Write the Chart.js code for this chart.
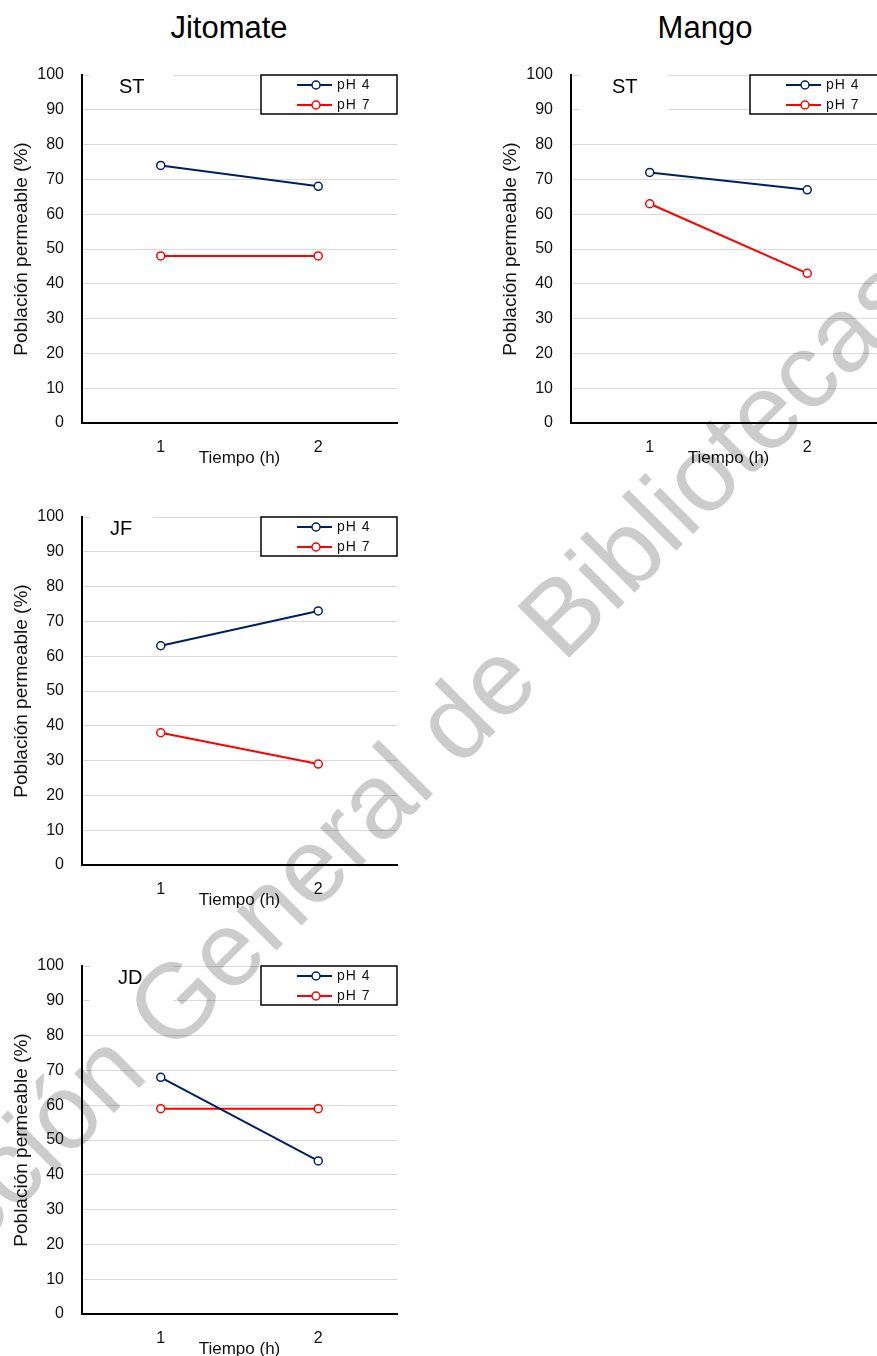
<!DOCTYPE html>
<html>
<head>
<meta charset="utf-8">
<script src="https://cdn.jsdelivr.net/npm/chart.js@4.4.1/dist/chart.umd.min.js"></script>
<style>
  html, body { margin: 0; padding: 0; background: #fff; }
  #page { position: relative; width: 877px; height: 1356px; overflow: hidden; font-family: 'Liberation Sans', Arial, sans-serif; }
  .panel { position: absolute; }
  .fruit { position: absolute; top: 12px; font-size: 31px; line-height: 31px; color: #000; transform: translateX(-50%); white-space: nowrap; }
  #watermark { position: absolute; left: 0; top: 0; mix-blend-mode: multiply; pointer-events: none; }
</style>
</head>
<body>
<div id="page">
  <div class="fruit" style="left:229px">Jitomate</div>
  <div class="fruit" style="left:705px">Mango</div>
  <canvas id="chartST" class="panel" width="410" height="420" style="left:0;top:60px"></canvas>
  <canvas id="chartMango" class="panel" width="410" height="420" style="left:489px;top:60px"></canvas>
  <canvas id="chartJF" class="panel" width="410" height="420" style="left:0;top:502px"></canvas>
  <canvas id="chartJD" class="panel" width="410" height="420" style="left:0;top:951px"></canvas>
  <canvas id="watermark" width="877" height="1356"></canvas>
</div>
<script>
// data
const timeLabels = ['1', '2'];
const seriesNames = ['pH 4', 'pH 7'];
const jitomateST_pH4 = [74, 68];
const jitomateST_pH7 = [48, 48];
const mangoST_pH4 = [72, 67];
const mangoST_pH7 = [63, 43];
const jitomateJF_pH4 = [63, 73];
const jitomateJF_pH7 = [38, 29];
const jitomateJD_pH4 = [68, 44];
const jitomateJD_pH7 = [59, 59];

const FONT = "'Liberation Sans', Arial, sans-serif";
Chart.defaults.font.family = FONT;
Chart.defaults.color = '#000';

const NAVY = '#002060';
const RED = '#ff0000';

// boxed legend in the top right corner of the plot, like the Excel one
const boxLegend = {
  id: 'boxLegend',
  afterDraw(chart) {
    const { ctx, chartArea } = chart;
    const w = 136, h = 39;
    const x0 = chartArea.right - w, y0 = chartArea.top;
    ctx.save();
    ctx.fillStyle = '#fff';
    ctx.fillRect(x0, y0, w, h);
    ctx.strokeStyle = '#000';
    ctx.lineWidth = 1.5;
    ctx.strokeRect(x0, y0, w, h);
    chart.data.datasets.forEach((ds, i) => {
      const cy = y0 + 10 + i * 20;
      ctx.strokeStyle = ds.borderColor;
      ctx.lineWidth = ds.borderWidth;
      ctx.beginPath();
      ctx.moveTo(x0 + 36, cy);
      ctx.lineTo(x0 + 71, cy);
      ctx.stroke();
      ctx.beginPath();
      ctx.arc(x0 + 55, cy, 4, 0, Math.PI * 2);
      ctx.fillStyle = '#fff';
      ctx.fill();
      ctx.lineWidth = ds.pointBorderWidth;
      ctx.stroke();
      ctx.fillStyle = '#111';
      ctx.font = '14px ' + FONT;
      ctx.letterSpacing = '1px';
      ctx.textBaseline = 'middle';
      ctx.fillText(ds.label, x0 + 76, cy);
    });
    ctx.restore();
  }
};

// panel tag (ST / JF / JD) on a white patch
const panelLabel = {
  id: 'panelLabel',
  afterDraw(chart, args, opts) {
    const { ctx, chartArea } = chart;
    ctx.save();
    ctx.fillStyle = '#fff';
    ctx.fillRect(chartArea.left + opts.boxLeft, chartArea.top - 4, opts.boxWidth, opts.boxHeight);
    ctx.fillStyle = '#000';
    ctx.font = '20px ' + FONT;
    ctx.textBaseline = 'alphabetic';
    ctx.fillText(opts.text, chartArea.left + opts.textLeft, chartArea.top + 18);
    ctx.restore();
  }
};

function series(label, data, color) {
  return {
    label: label,
    data: data,
    borderColor: color,
    borderWidth: 2,
    tension: 0,
    pointRadius: 4,
    pointBorderWidth: 1.5,
    pointBorderColor: color,
    pointBackgroundColor: '#fff'
  };
}

function makeChart(id, pH4, pH7, tag) {
  return new Chart(document.getElementById(id), {
    type: 'line',
    data: {
      labels: timeLabels,
      datasets: [series(seriesNames[0], pH4, NAVY), series(seriesNames[1], pH7, RED)]
    },
    options: {
      responsive: false,
      animation: false,
      layout: { padding: { left: 0, top: 15, right: 13, bottom: 0 } },
      scales: {
        x: {
          offset: true,
          grid: { display: false, drawTicks: false },
          border: { color: '#000', width: 2 },
          ticks: { color: '#111', font: { size: 16 }, padding: 15 },
          title: { display: true, text: 'Tiempo (h)', color: '#111', font: { size: 17 }, padding: { top: 0, bottom: 11 } },
          afterFit: (s) => { s.height = 57; s.paddingLeft = 0; s.paddingRight = 0; }
        },
        y: {
          min: 0,
          max: 100,
          ticks: { stepSize: 10, color: '#111', font: { size: 16 }, padding: 18 },
          grid: { color: '#d9d9d9', lineWidth: 1, drawTicks: false },
          border: { color: '#000', width: 2 },
          title: { display: true, text: 'Población permeable (%)', color: '#111', font: { size: 19 }, padding: { top: 10, bottom: 0 } },
          afterFit: (s) => { s.width = 82; s.paddingTop = 0; s.paddingBottom = 0; }
        }
      },
      plugins: {
        legend: { display: false },
        tooltip: { enabled: false },
        panelLabel: tag
      }
    },
    plugins: [panelLabel, boxLegend]
  });
}

makeChart('chartST', jitomateST_pH4, jitomateST_pH7, { text: 'ST', textLeft: 37, boxLeft: 7, boxWidth: 85, boxHeight: 28 });
makeChart('chartMango', mangoST_pH4, mangoST_pH7, { text: 'ST', textLeft: 41, boxLeft: 9, boxWidth: 88, boxHeight: 42 });
makeChart('chartJF', jitomateJF_pH4, jitomateJF_pH7, { text: 'JF', textLeft: 28, boxLeft: 8, boxWidth: 63, boxHeight: 28 });
makeChart('chartJD', jitomateJD_pH4, jitomateJD_pH7, { text: 'JD', textLeft: 36, boxLeft: 8, boxWidth: 83, boxHeight: 42 });

// library watermark across the page
const wctx = document.getElementById('watermark').getContext('2d');
wctx.translate(-162, 1389);
wctx.rotate(-Math.PI / 4);
wctx.font = '106px ' + FONT;
wctx.fillStyle = '#cccccc';
wctx.fillText('Dirección General de Bibliotecas', 0, 0);
</script>
</body>
</html>
